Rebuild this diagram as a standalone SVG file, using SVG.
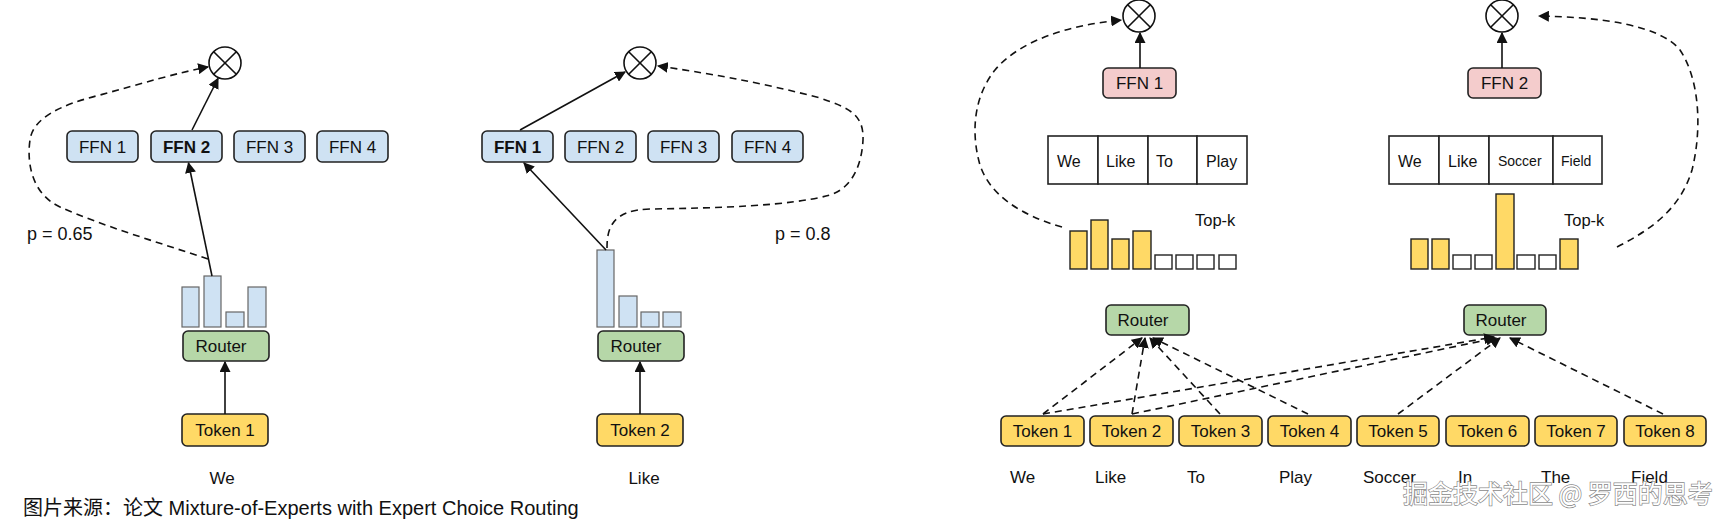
<svg xmlns="http://www.w3.org/2000/svg" width="1730" height="525" viewBox="0 0 1730 525">
<style>
text{font-family:"Liberation Sans",Arial,"Noto Sans CJK SC",sans-serif;fill:#111}
.box{stroke:#222;stroke-width:1.6}
.ffn{fill:#cfe2f3}
.router{fill:#b6d7a8}
.token{fill:#ffd966}
.pink{fill:#f4cccc}
.lbl{font-size:17px;text-anchor:middle}
.bold{font-weight:bold}
.bbar{fill:#cfe2f3;stroke:#666;stroke-width:1.2}
.ybar{fill:#ffd966;stroke:#222;stroke-width:1.4}
.ebar{fill:#fff;stroke:#222;stroke-width:1.4}
.cell{fill:#fff;stroke:#222;stroke-width:1.6}
.ct{font-size:16px}
.cts{font-size:14px}
.word{font-size:17px}
.solid{stroke:#111;stroke-width:1.6;fill:none;marker-end:url(#ah)}
.dash{stroke:#111;stroke-width:1.6;fill:none;stroke-dasharray:7 5;marker-end:url(#ah)}
.mul{fill:#fff;stroke:#111;stroke-width:1.6}
.mx{stroke:#111;stroke-width:1.6}
</style>
<defs>
<marker id="ah" viewBox="0 0 10 10" refX="9" refY="5" markerWidth="11" markerHeight="11" markerUnits="userSpaceOnUse" orient="auto">
<path d="M0,0 L10,5 L0,10 z" fill="#111"/>
</marker>
</defs>
<rect width="1730" height="525" fill="#fff"/>

<!-- Panel 1 -->
<g id="mul1"><circle class="mul" cx="225" cy="63" r="16"/><path class="mx" d="M213.7,51.7 L236.3,74.3 M236.3,51.7 L213.7,74.3"/></g>
<g id="p1-ffn1"><rect class="box ffn" x="67" y="131" width="71" height="31" rx="5"/><text class="lbl" x="102.5" y="153">FFN 1</text></g>
<g id="p1-ffn2"><rect class="box ffn" x="151" y="131" width="71" height="31" rx="5"/><text class="lbl bold" x="186.5" y="153">FFN 2</text></g>
<g id="p1-ffn3"><rect class="box ffn" x="234" y="131" width="71" height="31" rx="5"/><text class="lbl" x="269.5" y="153">FFN 3</text></g>
<g id="p1-ffn4"><rect class="box ffn" x="317" y="131" width="71" height="31" rx="5"/><text class="lbl" x="352.5" y="153">FFN 4</text></g>
<g id="p1-bars">
<rect class="bbar" x="182" y="287" width="17" height="40"/>
<rect class="bbar" x="204" y="276" width="17" height="51"/>
<rect class="bbar" x="226" y="312" width="18" height="15"/>
<rect class="bbar" x="248" y="287" width="18" height="40"/>
</g>
<g id="p1-router"><rect class="box router" x="183" y="331" width="86" height="30" rx="5"/><text class="lbl" x="221" y="352">Router</text></g>
<g id="p1-token"><rect class="box token" x="182" y="414" width="86" height="32" rx="5"/><text class="lbl" x="225" y="436">Token 1</text></g>
<text class="word" x="222" y="484" text-anchor="middle">We</text>
<text x="27" y="240" font-size="18">p = 0.65</text>

<!-- Panel 2 -->
<g id="mul2"><circle class="mul" cx="640" cy="63" r="16"/><path class="mx" d="M628.7,51.7 L651.3,74.3 M651.3,51.7 L628.7,74.3"/></g>
<g id="p2-ffn1"><rect class="box ffn" x="482" y="131" width="71" height="31" rx="5"/><text class="lbl bold" x="517.5" y="153">FFN 1</text></g>
<g id="p2-ffn2"><rect class="box ffn" x="565" y="131" width="71" height="31" rx="5"/><text class="lbl" x="600.5" y="153">FFN 2</text></g>
<g id="p2-ffn3"><rect class="box ffn" x="648" y="131" width="71" height="31" rx="5"/><text class="lbl" x="683.5" y="153">FFN 3</text></g>
<g id="p2-ffn4"><rect class="box ffn" x="732" y="131" width="71" height="31" rx="5"/><text class="lbl" x="767.5" y="153">FFN 4</text></g>
<g id="p2-bars">
<rect class="bbar" x="597" y="250" width="17" height="77"/>
<rect class="bbar" x="619" y="296" width="18" height="31"/>
<rect class="bbar" x="641" y="312" width="18" height="15"/>
<rect class="bbar" x="663" y="312" width="18" height="15"/>
</g>
<g id="p2-router"><rect class="box router" x="598" y="331" width="86" height="30" rx="5"/><text class="lbl" x="636" y="352">Router</text></g>
<g id="p2-token"><rect class="box token" x="597" y="414" width="86" height="32" rx="5"/><text class="lbl" x="640" y="436">Token 2</text></g>
<text class="word" x="644" y="484" text-anchor="middle">Like</text>
<text x="775" y="240" font-size="18">p = 0.8</text>

<!-- Panel 3 -->
<g id="mul3"><circle class="mul" cx="1139" cy="16" r="16"/><path class="mx" d="M1127.7,4.7 L1150.3,27.3 M1150.3,4.7 L1127.7,27.3"/></g>
<g id="p3-ffn1"><rect class="box pink" x="1103" y="68" width="73" height="30" rx="5"/><text class="lbl" x="1139.5" y="89">FFN 1</text></g>
<g id="p3-table">
<rect class="cell" x="1048" y="136" width="50" height="48"/>
<rect class="cell" x="1098" y="136" width="50" height="48"/>
<rect class="cell" x="1148" y="136" width="49" height="48"/>
<rect class="cell" x="1197" y="136" width="50" height="48"/>
<text class="ct" x="1057" y="167">We</text>
<text class="ct" x="1106" y="167">Like</text>
<text class="ct" x="1156" y="167">To</text>
<text class="ct" x="1206" y="167" font-size="15">Play</text>
</g>
<g id="p3-bars">
<rect class="ybar" x="1070" y="231" width="17" height="38"/>
<rect class="ybar" x="1091" y="220" width="17" height="49"/>
<rect class="ybar" x="1112" y="239" width="17" height="30"/>
<rect class="ybar" x="1133" y="231" width="18" height="38"/>
<rect class="ebar" x="1155" y="255" width="17" height="14"/>
<rect class="ebar" x="1176" y="255" width="17" height="14"/>
<rect class="ebar" x="1197" y="255" width="17" height="14"/>
<rect class="ebar" x="1219" y="255" width="17" height="14"/>
</g>
<text x="1195" y="226" font-size="16.5">Top-k</text>

<!-- Panel 4 -->
<g id="mul4"><circle class="mul" cx="1502" cy="16" r="16"/><path class="mx" d="M1490.7,4.7 L1513.3,27.3 M1513.3,4.7 L1490.7,27.3"/></g>
<g id="p4-ffn2"><rect class="box pink" x="1468" y="68" width="73" height="30" rx="5"/><text class="lbl" x="1504.5" y="89">FFN 2</text></g>
<g id="p4-table">
<rect class="cell" x="1389" y="136" width="50" height="48"/>
<rect class="cell" x="1439" y="136" width="50" height="48"/>
<rect class="cell" x="1489" y="136" width="64" height="48"/>
<rect class="cell" x="1553" y="136" width="49" height="48"/>
<text class="ct" x="1398" y="167">We</text>
<text class="ct" x="1448" y="167">Like</text>
<text class="cts" x="1498" y="166">Soccer</text>
<text class="cts" x="1561" y="166">Field</text>
</g>
<g id="p4-bars">
<rect class="ybar" x="1411" y="239" width="17" height="30"/>
<rect class="ybar" x="1432" y="239" width="17" height="30"/>
<rect class="ebar" x="1453" y="255" width="18" height="14"/>
<rect class="ebar" x="1475" y="255" width="17" height="14"/>
<rect class="ybar" x="1496" y="194" width="18" height="75"/>
<rect class="ebar" x="1517" y="255" width="18" height="14"/>
<rect class="ebar" x="1539" y="255" width="17" height="14"/>
<rect class="ybar" x="1560" y="239" width="18" height="30"/>
</g>
<text x="1564" y="226" font-size="16.5">Top-k</text>

<!-- Bottom routers and tokens -->
<g id="r1"><rect class="box router" x="1106" y="305" width="83" height="30" rx="5"/><text class="lbl" x="1143" y="326">Router</text></g>
<g id="r2"><rect class="box router" x="1464" y="305" width="82" height="30" rx="5"/><text class="lbl" x="1501" y="326">Router</text></g>
<g id="t1"><rect class="box token" x="1001" y="416" width="83" height="30" rx="5"/><text class="lbl" x="1042.5" y="437">Token 1</text></g>
<g id="t2"><rect class="box token" x="1090" y="416" width="83" height="30" rx="5"/><text class="lbl" x="1131.5" y="437">Token 2</text></g>
<g id="t3"><rect class="box token" x="1179" y="416" width="83" height="30" rx="5"/><text class="lbl" x="1220.5" y="437">Token 3</text></g>
<g id="t4"><rect class="box token" x="1268" y="416" width="83" height="30" rx="5"/><text class="lbl" x="1309.5" y="437">Token 4</text></g>
<g id="t5"><rect class="box token" x="1357" y="416" width="82" height="30" rx="5"/><text class="lbl" x="1398" y="437">Token 5</text></g>
<g id="t6"><rect class="box token" x="1446" y="416" width="83" height="30" rx="5"/><text class="lbl" x="1487.5" y="437">Token 6</text></g>
<g id="t7"><rect class="box token" x="1535" y="416" width="82" height="30" rx="5"/><text class="lbl" x="1576" y="437">Token 7</text></g>
<g id="t8"><rect class="box token" x="1624" y="416" width="82" height="30" rx="5"/><text class="lbl" x="1665" y="437">Token 8</text></g>
<g id="words">
<text class="word" x="1010" y="483">We</text>
<text class="word" x="1095" y="483">Like</text>
<text class="word" x="1187" y="483">To</text>
<text class="word" x="1279" y="483">Play</text>
<text class="word" x="1363" y="483">Soccer</text>
<text class="word" x="1458" y="483">In</text>
<text class="word" x="1541" y="483">The</text>
<text class="word" x="1631" y="483">Field</text>
</g>

<!-- Connectors -->
<g id="connectors">
<path class="solid" d="M225,414 L225,362"/>
<path class="solid" d="M212,276 L188.5,163"/>
<path class="solid" d="M192,130 L218,78.5"/>
<path class="dash" d="M208,259 C160,243 100,225 60,207 C30,193 27,160 30,140 C33,118 60,105 100,95 C140,84 180,72 208,67"/>
<path class="solid" d="M640,414 L640,362"/>
<path class="solid" d="M606,250 L524,163"/>
<path class="solid" d="M520,130 L625,72"/>
<path class="dash" d="M607,248 C607,228 612,210 650,209 C720,208 790,206 830,195 C855,187 862,160 863,140 C864,115 850,108 820,98 C760,82 700,72 658,66"/>
<path class="solid" d="M1140,68 L1140,33"/>
<path class="solid" d="M1502,68 L1502,33"/>
<path class="dash" d="M1062,227 C1020,215 990,195 980,165 C970,130 975,95 995,70 C1020,40 1070,25 1121,20"/>
<path class="dash" d="M1617,247 C1650,230 1680,210 1692,170 C1702,130 1700,80 1680,50 C1660,25 1600,17 1539,16"/>
<path class="dash" d="M1043,414 L1142,338"/>
<path class="dash" d="M1132,414 L1145,338"/>
<path class="dash" d="M1220,414 L1150,338"/>
<path class="dash" d="M1308,414 L1153,338"/>
<path class="dash" d="M1043,414 L1494,337"/>
<path class="dash" d="M1132,414 L1496,338"/>
<path class="dash" d="M1398,414 L1500,338"/>
<path class="dash" d="M1663,414 L1510,338"/>
</g>

<text x="23" y="515" font-size="20" style="font-family:'Liberation Sans',Arial,'Noto Sans CJK SC',sans-serif">图片来源：论文 Mixture-of-Experts with Expert Choice Routing</text>
<text x="1403" y="503" font-size="25" style="fill:#fff;stroke:#8a8a8a;stroke-width:1.4;paint-order:stroke;font-family:'Noto Sans CJK SC','Liberation Sans',sans-serif">掘金技术社区 @ 罗西的思考</text>
</svg>
